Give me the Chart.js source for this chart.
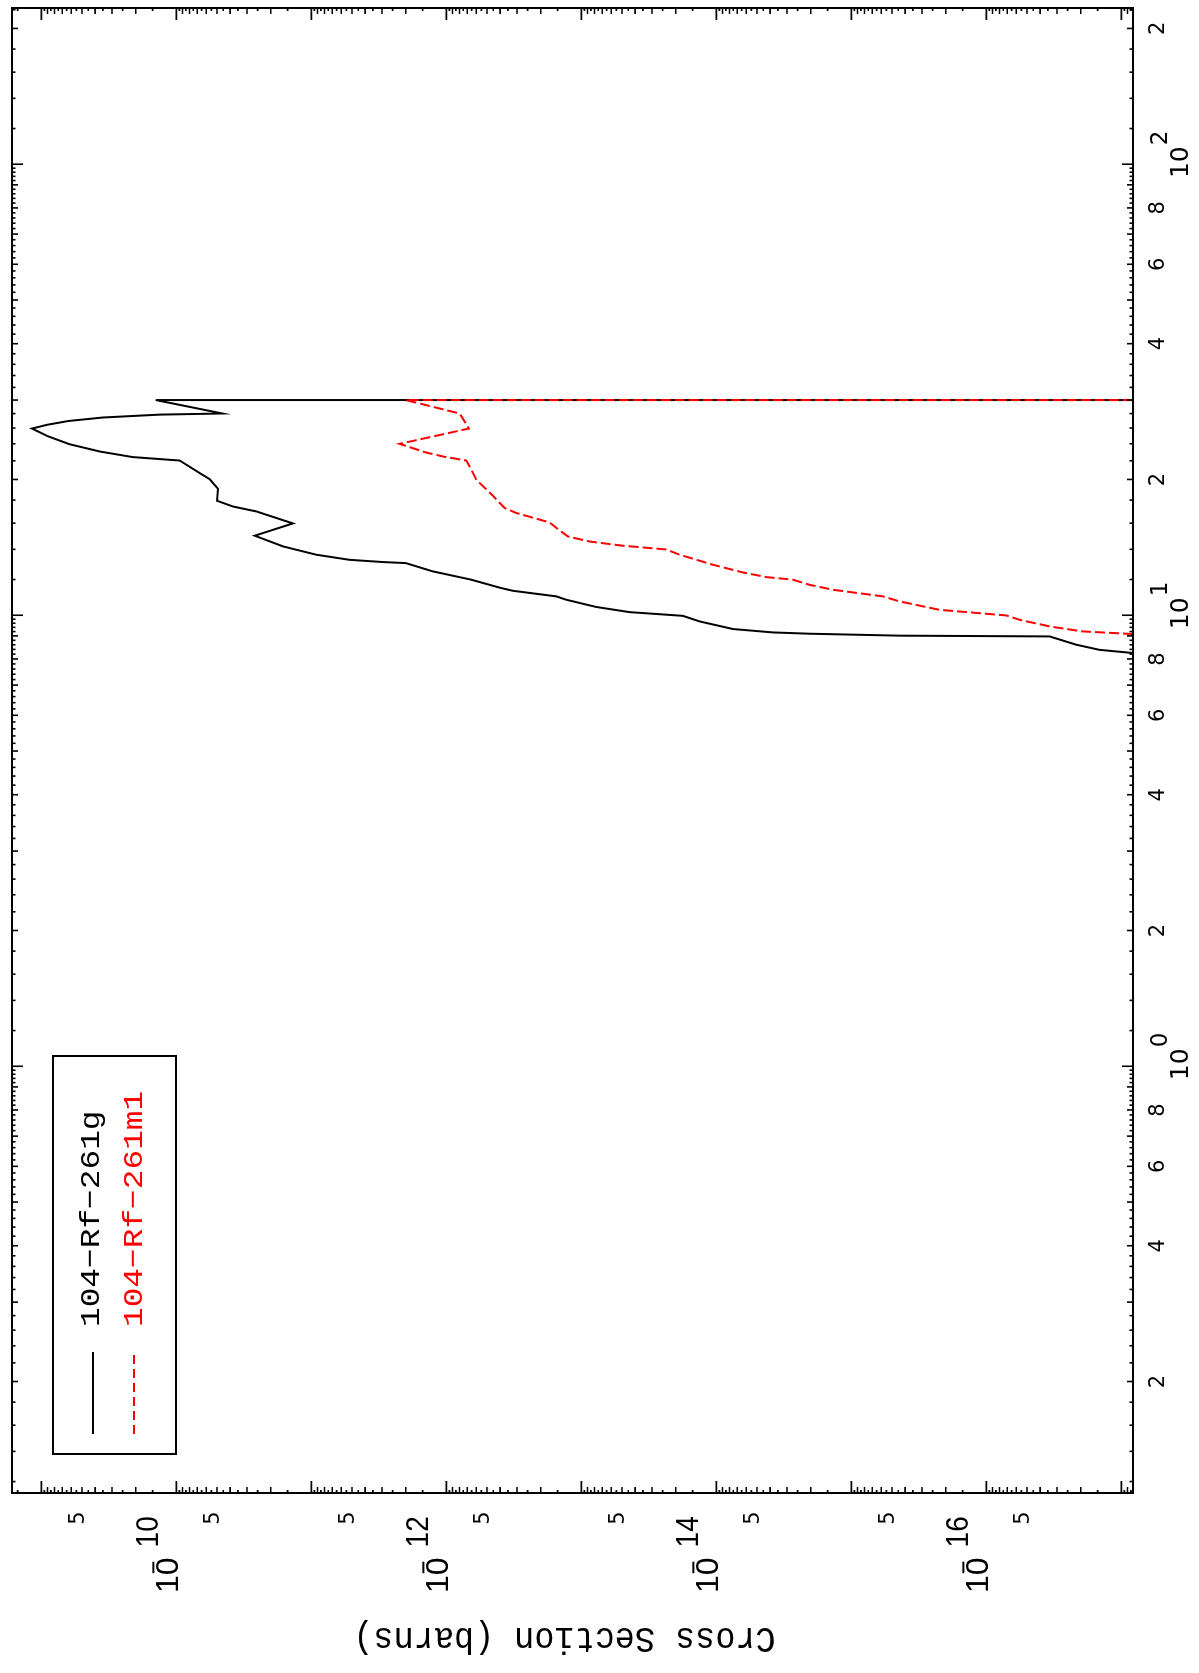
<!DOCTYPE html>
<html>
<head>
<meta charset="utf-8">
<script src="https://cdn.jsdelivr.net/npm/chart.js@4/dist/chart.umd.min.js"></script>
<style>
  html, body { margin: 0; padding: 0; background: #fff; overflow: hidden; }
  #page { position: relative; width: 1199px; height: 1673px; overflow: hidden; background: #fff; }
  /* landscape plot sheet, turned a quarter turn counter-clockwise onto the portrait page */
  #sheet { position: absolute; left: 0; top: 0; width: 1673px; height: 1199px;
           transform-origin: 0 0; transform: translate(0, 1673px) rotate(-90deg); }
</style>
</head>
<body>
<div id="page"><div id="sheet"><canvas id="plot" width="1673" height="1199"></canvas></div></div>
<script>
// ---- axis limits ----
const energyRange  = [0.1132, 222];      // incident energy, MeV
const sectionRange = [8.2e-18, 1.65e-9]; // cross section, barns

// ---- 104-Rf-261g (ground state) ----
const energyG = [8.245, 8.38, 8.60, 8.975, 9.01, 9.10, 9.16, 9.32, 9.69, 9.97,
                 10.16, 10.43, 10.82, 11.01, 11.33, 11.51, 11.99, 12.51, 13.05, 13.12,
                 13.27, 13.62, 14.21, 15.01, 15.98, 16.99, 17.42, 17.94, 19.07, 20.04,
                 20.66, 22.03, 22.42, 23.07, 23.96, 24.95, 25.94, 26.45, 26.96, 27.44,
                 27.85, 28.01, 30.0, 30.0];
const sigmaG  = [8.2e-18, 1.45e-17, 2.15e-17, 3.40e-17, 4.39e-16, 2.04e-15, 3.81e-15, 7.53e-15, 1.33e-14, 1.77e-14,
                 4.39e-14, 7.74e-14, 1.29e-13, 1.53e-13, 3.21e-13, 4.03e-13, 6.53e-13, 1.26e-12, 2.0e-12, 2.95e-12,
                 5.2e-12, 9.18e-12, 1.62e-11, 2.63e-11, 1.37e-11, 2.56e-11, 3.81e-11, 5.0e-11, 4.92e-11, 5.67e-11,
                 6.72e-11, 9.45e-11, 2.10e-10, 3.70e-10, 6.23e-10, 8.98e-10, 1.174e-9, 9.01e-10, 6.28e-10, 3.52e-10,
                 1.33e-10, 4.56e-11, 1.42e-10, 1e-20];

// ---- 104-Rf-261m1 (isomer) ----
const energyM1 = [9.085, 9.21, 9.445, 9.77, 9.99, 10.28, 10.73, 11.01, 11.39, 11.68,
                  11.99, 12.15, 12.44, 12.94, 13.62, 13.99, 14.26, 14.57, 14.95, 15.52,
                  16.06, 16.85, 17.29, 18.40, 19.97, 21.37, 22.03, 22.45, 22.96, 23.99,
                  25.94, 28.01, 30.0, 30.0];
const sigmaM1  = [8.2e-18, 1.96e-17, 3.40e-17, 5.67e-17, 7.11e-17, 2.22e-16, 4.39e-16, 5.83e-16, 1.37e-15, 2.04e-15,
                  2.71e-15, 4.26e-15, 6.35e-15, 1.06e-14, 1.87e-14, 2.35e-14, 4.92e-14, 8.68e-14, 1.26e-13, 1.49e-13,
                  1.72e-13, 3.03e-13, 3.70e-13, 4.52e-13, 6.0e-13, 6.72e-13, 7.11e-13, 1.03e-12, 1.42e-12, 2.22e-12,
                  6.80e-13, 7.97e-13, 2.0e-12, 1e-20];

// ---- text ----
const seriesNames = ['104\u2212Rf\u2212261g', '104\u2212Rf\u2212261m1'];
const seriesColors = ['#000000', '#ff0000'];
const axisTitle = 'Cross Section (barns)';
const energyLabelMultiples = [2, 4, 6, 8];     // numbered minor ticks on the energy axis
const sectionLabelMultiples = [5];             // numbered minor ticks on the cross-section axis
const sectionLabelStep = 2;                    // cross-section decades numbered every second power

const toPoints = (xs, ys) => xs.map((e, i) => ({ x: e, y: ys[i] }));

function decadeList(lo, hi) {
  const out = [];
  for (let n = Math.floor(Math.log10(lo)); n <= Math.ceil(Math.log10(hi)); n++) out.push(n);
  return out;
}

// energy axis: ticks every 0.2 of the leading digit
function energyTicks(lo, hi) {
  const t = [];
  decadeList(lo, hi).forEach(n => {
    for (let k = 5; k < 50; k++) {
      const v = k * 0.2 * Math.pow(10, n);
      if (v < lo || v > hi) continue;
      t.push({ v, len: k === 5 ? 11 : (k % 5 === 0 ? 6 : 3.5) });
    }
  });
  return t;
}
// cross-section axis: ticks every 0.5 of the leading digit
function sectionTicks(lo, hi) {
  const t = [];
  decadeList(lo, hi).forEach(n => {
    for (let j = 2; j < 20; j++) {
      const v = j * 0.5 * Math.pow(10, n);
      if (v < lo || v > hi) continue;
      t.push({ v, len: j === 2 ? 12 : (j % 2 === 0 ? 6 : 3) });
    }
  });
  return t;
}

const NUM_FONT = '"DejaVu Sans", "Liberation Sans", sans-serif';
const SANS_FONT = '"Liberation Sans", Arial, sans-serif';
const MONO_FONT = '"Liberation Mono", "DejaVu Sans Mono", monospace';

// energy decade label: "10" centred on the tick, exponent raised to its right
function energyPower(ctx, cx, baseline, exp) {
  ctx.textAlign = 'left';
  ctx.textBaseline = 'alphabetic';
  ctx.font = '25px ' + NUM_FONT;
  const w = ctx.measureText('10').width;
  ctx.fillText('10', cx - w / 2, baseline);
  ctx.font = '23px ' + NUM_FONT;
  ctx.fillText(String(exp), cx + w / 2 + 1, baseline - 21);
}

// cross-section decade label: "10", a bar over its "0" for the sign, then the raised digits
function sectionPower(ctx, left, baseline, exp) {
  ctx.textAlign = 'left';
  ctx.textBaseline = 'alphabetic';
  ctx.font = '32px ' + SANS_FONT;
  const w1 = ctx.measureText('1').width;
  const w = ctx.measureText('10').width;
  ctx.fillText('10', left, baseline);
  ctx.save();
  ctx.lineWidth = 2;
  ctx.beginPath();
  ctx.moveTo(left + w1 + 2, baseline - 24.5);
  ctx.lineTo(left + w1 + 13.5, baseline - 24.5);
  ctx.stroke();
  ctx.restore();
  ctx.save();
  ctx.translate(left + w + 10, baseline - 19.5);
  ctx.scale(1, 1.1);
  ctx.font = '28px ' + SANS_FONT;
  ctx.fillText(String(Math.abs(exp)), 0, 0);
  ctx.restore();
}

const decorations = {
  id: 'decorations',
  afterDatasetsDraw(chart) {
    const { ctx, chartArea: a, scales: { x, y } } = chart;
    ctx.save();
    ctx.strokeStyle = '#000';
    ctx.fillStyle = '#000';

    // inward ticks on all four sides
    ctx.lineWidth = 1.6;
    ctx.beginPath();
    energyTicks(energyRange[0], energyRange[1]).forEach(t => {
      const p = x.getPixelForValue(t.v);
      ctx.moveTo(p, a.bottom); ctx.lineTo(p, a.bottom - t.len);
      ctx.moveTo(p, a.top);    ctx.lineTo(p, a.top + t.len);
    });
    sectionTicks(sectionRange[0], sectionRange[1]).forEach(t => {
      const p = y.getPixelForValue(t.v);
      ctx.moveTo(a.left, p);  ctx.lineTo(a.left + t.len, p);
      ctx.moveTo(a.right, p); ctx.lineTo(a.right - t.len, p);
    });
    ctx.stroke();

    // frame
    ctx.lineWidth = 2;
    ctx.strokeRect(a.left, a.top, a.right - a.left, a.bottom - a.top);

    // energy labels under the axis
    decadeList(energyRange[0], energyRange[1]).forEach(n => {
      const d = Math.pow(10, n);
      if (d >= energyRange[0] && d <= energyRange[1]) {
        energyPower(ctx, x.getPixelForValue(d) + 2, a.bottom + 55, n);
      }
      energyLabelMultiples.forEach(m => {
        const v = m * d;
        if (v < energyRange[0] || v > energyRange[1]) return;
        ctx.font = '21px ' + NUM_FONT;
        ctx.textAlign = 'center';
        ctx.textBaseline = 'alphabetic';
        ctx.fillText(String(m), x.getPixelForValue(v), a.bottom + 31);
      });
    });

    // cross-section labels left of the axis
    decadeList(sectionRange[0], sectionRange[1]).forEach(n => {
      const d = Math.pow(10, n);
      if (d >= sectionRange[0] && d <= sectionRange[1] && n % sectionLabelStep === 0) {
        sectionPower(ctx, a.left - 100, y.getPixelForValue(d) + 1.5, n);
      }
      sectionLabelMultiples.forEach(m => {
        const v = m * d;
        if (v < sectionRange[0] || v > sectionRange[1]) return;
        ctx.font = '21px ' + NUM_FONT;
        ctx.textAlign = 'center';
        ctx.textBaseline = 'alphabetic';
        ctx.fillText(String(m), a.left - 25, y.getPixelForValue(v) + 2);
      });
    });

    // axis title, set on its side along the cross-section axis
    ctx.save();
    ctx.translate(45, (a.top + a.bottom) / 2 - 8);
    ctx.rotate(-Math.PI / 2);
    ctx.scale(1, 1.13);
    ctx.font = '33.5px ' + MONO_FONT;
    ctx.textAlign = 'center';
    ctx.textBaseline = 'alphabetic';
    ctx.fillText(axisTitle, 0, 0);
    ctx.restore();

    // legend box
    const box = { l: 219, t: 53, w: 398, h: 123 };
    ctx.lineWidth = 2;
    ctx.strokeRect(box.l, box.t, box.w, box.h);
    const rows = [93, 134];
    const baselines = [99, 142];
    seriesNames.forEach((name, i) => {
      ctx.save();
      ctx.strokeStyle = seriesColors[i];
      ctx.lineWidth = 2;
      if (i === 1) ctx.setLineDash([9, 5]);
      ctx.beginPath();
      ctx.moveTo(box.l + 20, rows[i]);
      ctx.lineTo(box.l + 102, rows[i]);
      ctx.stroke();
      ctx.restore();
      ctx.save();
      ctx.fillStyle = seriesColors[i];
      ctx.translate(box.l + 127, baselines[i]);
      ctx.scale(1, 0.86);
      ctx.font = '32.8px ' + MONO_FONT;
      ctx.textAlign = 'left';
      ctx.textBaseline = 'alphabetic';
      ctx.fillText(name, 0, 0);
      ctx.restore();
    });
    ctx.restore();
  }
};

new Chart(document.getElementById('plot').getContext('2d'), {
  type: 'line',
  data: {
    datasets: [
      { label: seriesNames[1], data: toPoints(energyM1, sigmaM1), borderColor: seriesColors[1],
        borderWidth: 2, borderDash: [10, 4], pointRadius: 0, fill: false, tension: 0, order: 0 },
      { label: seriesNames[0], data: toPoints(energyG, sigmaG), borderColor: seriesColors[0],
        borderWidth: 2, pointRadius: 0, fill: false, tension: 0, order: 1 }
    ]
  },
  options: {
    responsive: false,
    animation: false,
    devicePixelRatio: 1,
    layout: { padding: { left: 180, top: 12, right: 8, bottom: 66 } },
    plugins: { legend: { display: false }, tooltip: { enabled: false } },
    scales: {
      x: { type: 'logarithmic', min: energyRange[0], max: energyRange[1], bounds: 'data', display: false },
      y: { type: 'logarithmic', min: sectionRange[0], max: sectionRange[1], bounds: 'data', display: false }
    }
  },
  plugins: [decorations]
});
</script>
</body>
</html>
